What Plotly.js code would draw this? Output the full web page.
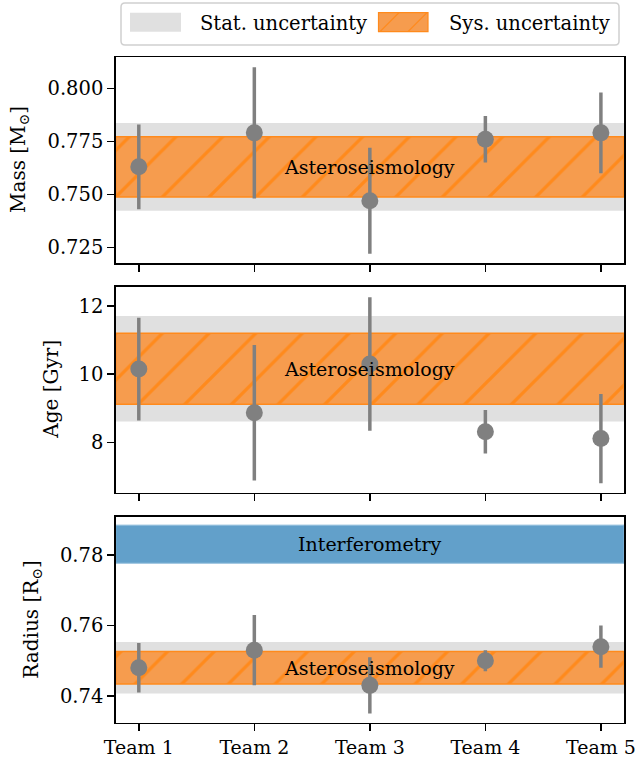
<!DOCTYPE html>
<html><head><meta charset="utf-8">
<script src="https://cdn.plot.ly/plotly-3.0.1.min.js"></script>
<style>html,body{margin:0;padding:0;background:#fff}</style>
</head><body><div id="chart" style="width:637px;height:764px"></div>
<script>
// ---- data ----
const teams = ["Team 1", "Team 2", "Team 3", "Team 4", "Team 5"];
const massValues = [0.763, 0.779, 0.747, 0.776, 0.779];
const massErrors = [0.020, 0.031, 0.025, 0.011, 0.019];
const ageValues = [10.15, 8.87, 10.30, 8.31, 8.11];
const ageErrors = [1.51, 1.99, 1.96, 0.64, 1.31];
const radiusValues = [0.748, 0.753, 0.743, 0.750, 0.754];
const radiusErrors = [0.007, 0.010, 0.008, 0.003, 0.006];
const asteroValues = [0.763, 10.16, 0.748];   // Mass, Age, Radius
const asteroStat = [0.0207, 1.55, 0.0073];
const asteroSys = [0.0142, 1.04, 0.0046];
const interfRadius = 0.7831;
const interfError = 0.0054;
const yTitles = ["Mass [M<sub>⊙</sub>]", "Age [Gyr]", "Radius [R<sub>⊙</sub>]"];
const legendLabels = ["Stat. uncertainty", "Sys. uncertainty"];
const bandLabels = ["Asteroseismology", "Interferometry"];

// ---- styling / geometry ----
const W = 637, H = 764;
const FONT = "DejaVu Serif";
const px = x => x / W, py = y => 1 - y / H;
const plotL = 115.7, plotR = 624;
const panels = [[57, 263], [286.7, 492.7], [516.7, 722.7]];
const yRanges = [[0.7176, 0.8148], [6.52, 12.57], [0.7324, 0.7909]];
const yTicks = [{tick0: 0.725, dtick: 0.025, tickformat: ".3f"}, {tick0: 8, dtick: 2, tickformat: "d"}, {tick0: 0.74, dtick: 0.02, tickformat: ".2f"}];
const yTitleX = [19, 51, 32];
const pad = 0.2;
const xs = teams.map((_, i) => i);
const xCenter = (teams.length - 1) / 2, xSpan = teams.length - 1 + 2 * pad;
const GREY = "#e0e0e0", ORANGE_FILL = "#f69c4e", ORANGE_LINE = "#ff8a1c", BLUE = "#62a0ca", MARK = "#808080";

const series = [[massValues, massErrors], [ageValues, ageErrors], [radiusValues, radiusErrors]];
const traces = [];
const annotations = [];
const shapes = [];
const layout = {
  width: W, height: H, margin: {l: 0, r: 0, t: 0, b: 0},
  paper_bgcolor: "#fff", plot_bgcolor: "#fff", showlegend: false, barmode: "overlay",
  font: {family: FONT, size: 19, color: "#000"}, hovermode: false
};

for (let p = 0; p < 3; p++) {
  const sfx = p === 0 ? "" : String(p + 1);
  const xa = "x" + sfx, ya = "y" + sfx;
  const v = asteroValues[p], st = asteroStat[p], sy = asteroSys[p];
  // stat band
  traces.push({type: "bar", x: [xCenter], width: [xSpan], base: [v - st], y: [2 * st],
    xaxis: xa, yaxis: ya, marker: {color: GREY, line: {width: 0}}});
  // sys band (hatched)
  traces.push({type: "bar", x: [xCenter], width: [xSpan], base: [v - sy], y: [2 * sy],
    xaxis: xa, yaxis: ya,
    marker: {color: ORANGE_FILL, line: {color: ORANGE_LINE, width: 1.5},
      pattern: {shape: "/", fgcolor: ORANGE_LINE, bgcolor: ORANGE_FILL, size: 33, solidity: 0.1, fillmode: "replace"}}});
  if (p === 2) {
    traces.push({type: "bar", x: [xCenter], width: [xSpan], base: [interfRadius - interfError], y: [2 * interfError],
      xaxis: xa, yaxis: ya, marker: {color: BLUE, line: {color: "#8dbbdb", width: 1}}});
    annotations.push({xref: xa, yref: ya, x: xCenter, y: interfRadius, text: bandLabels[1], showarrow: false,
      xanchor: "center", yanchor: "middle", font: {family: FONT, size: 19, color: "#000"}});
  }
  // team points
  traces.push({type: "scatter", mode: "markers", x: xs, y: series[p][0], xaxis: xa, yaxis: ya,
    marker: {size: 17, color: MARK},
    error_y: {type: "data", array: series[p][1], visible: true, color: MARK, thickness: 3.5, width: 0}});
  annotations.push({xref: xa, yref: ya, x: xCenter, y: v, text: bandLabels[0], showarrow: false,
    xanchor: "center", yanchor: "middle", font: {family: FONT, size: 19, color: "#000"}});
  // y title
  annotations.push({xref: "paper", yref: "paper", x: px(yTitleX[p]), y: py((panels[p][0] + panels[p][1]) / 2),
    text: yTitles[p], showarrow: false, textangle: -90, xanchor: "center", yanchor: "middle",
    font: {family: FONT, size: 20, color: "#000"}});

  layout["xaxis" + sfx] = {
    domain: [px(plotL), px(plotR)], anchor: ya, range: [-pad, teams.length - 1 + pad],
    tickmode: "array", tickvals: xs, ticktext: teams, showticklabels: p === 2,
    ticks: "outside", ticklen: 7, tickwidth: 1.5, tickcolor: "#000",
    showline: true, linecolor: "#000", linewidth: 1.5, mirror: true,
    showgrid: false, zeroline: false, automargin: false, fixedrange: true,
    tickfont: {family: FONT, size: 19, color: "#000"}
  };
  layout["yaxis" + sfx] = Object.assign({
    domain: [py(panels[p][1]), py(panels[p][0])], anchor: xa, range: yRanges[p],
    tickmode: "linear", ticks: "outside", ticklen: 7, tickwidth: 1.5, tickcolor: "#000",
    showline: true, linecolor: "#000", linewidth: 1.5, mirror: true,
    showgrid: false, zeroline: false, automargin: false, fixedrange: true,
    tickfont: {family: FONT, size: 19.5, color: "#000"}
  }, yTicks[p]);
}

// ---- legend (drawn manually) ----
const lgL = 121, lgR = 619, lgT = 3, lgB = 45, r = 4;
shapes.push({type: "path", xref: "paper", yref: "paper",
  path: `M ${px(lgL + r)} ${py(lgT)} L ${px(lgR - r)} ${py(lgT)} Q ${px(lgR)} ${py(lgT)} ${px(lgR)} ${py(lgT + r)} ` +
        `L ${px(lgR)} ${py(lgB - r)} Q ${px(lgR)} ${py(lgB)} ${px(lgR - r)} ${py(lgB)} ` +
        `L ${px(lgL + r)} ${py(lgB)} Q ${px(lgL)} ${py(lgB)} ${px(lgL)} ${py(lgB - r)} ` +
        `L ${px(lgL)} ${py(lgT + r)} Q ${px(lgL)} ${py(lgT)} ${px(lgL + r)} ${py(lgT)} Z`,
  fillcolor: "#fff", line: {color: "#d0d0d0", width: 1.5}});
shapes.push({type: "rect", xref: "paper", yref: "paper", x0: px(130), x1: px(181), y0: py(31.7), y1: py(12.7),
  fillcolor: GREY, line: {width: 0}});
shapes.push({type: "rect", xref: "paper", yref: "paper", x0: px(378.5), x1: px(428), y0: py(31.7), y1: py(12.7),
  fillcolor: ORANGE_FILL, line: {color: ORANGE_LINE, width: 1.2}});
[[380, 31.7, 399, 12.7], [408, 31.7, 427, 12.7]].forEach(s => shapes.push({type: "line", xref: "paper", yref: "paper",
  x0: px(s[0]), y0: py(s[1]), x1: px(s[2]), y1: py(s[3]), line: {color: ORANGE_LINE, width: 1.2}}));
annotations.push({xref: "paper", yref: "paper", x: px(198), y: py(23.5), text: legendLabels[0], showarrow: false,
  xanchor: "left", yanchor: "middle", font: {family: FONT, size: 19.5, color: "#000"}});
annotations.push({xref: "paper", yref: "paper", x: px(447), y: py(23.5), text: legendLabels[1], showarrow: false,
  xanchor: "left", yanchor: "middle", font: {family: FONT, size: 19.5, color: "#000"}});

layout.annotations = annotations;
layout.shapes = shapes;
Plotly.newPlot("chart", traces, layout, {displayModeBar: false, staticPlot: true});
</script></body></html>
